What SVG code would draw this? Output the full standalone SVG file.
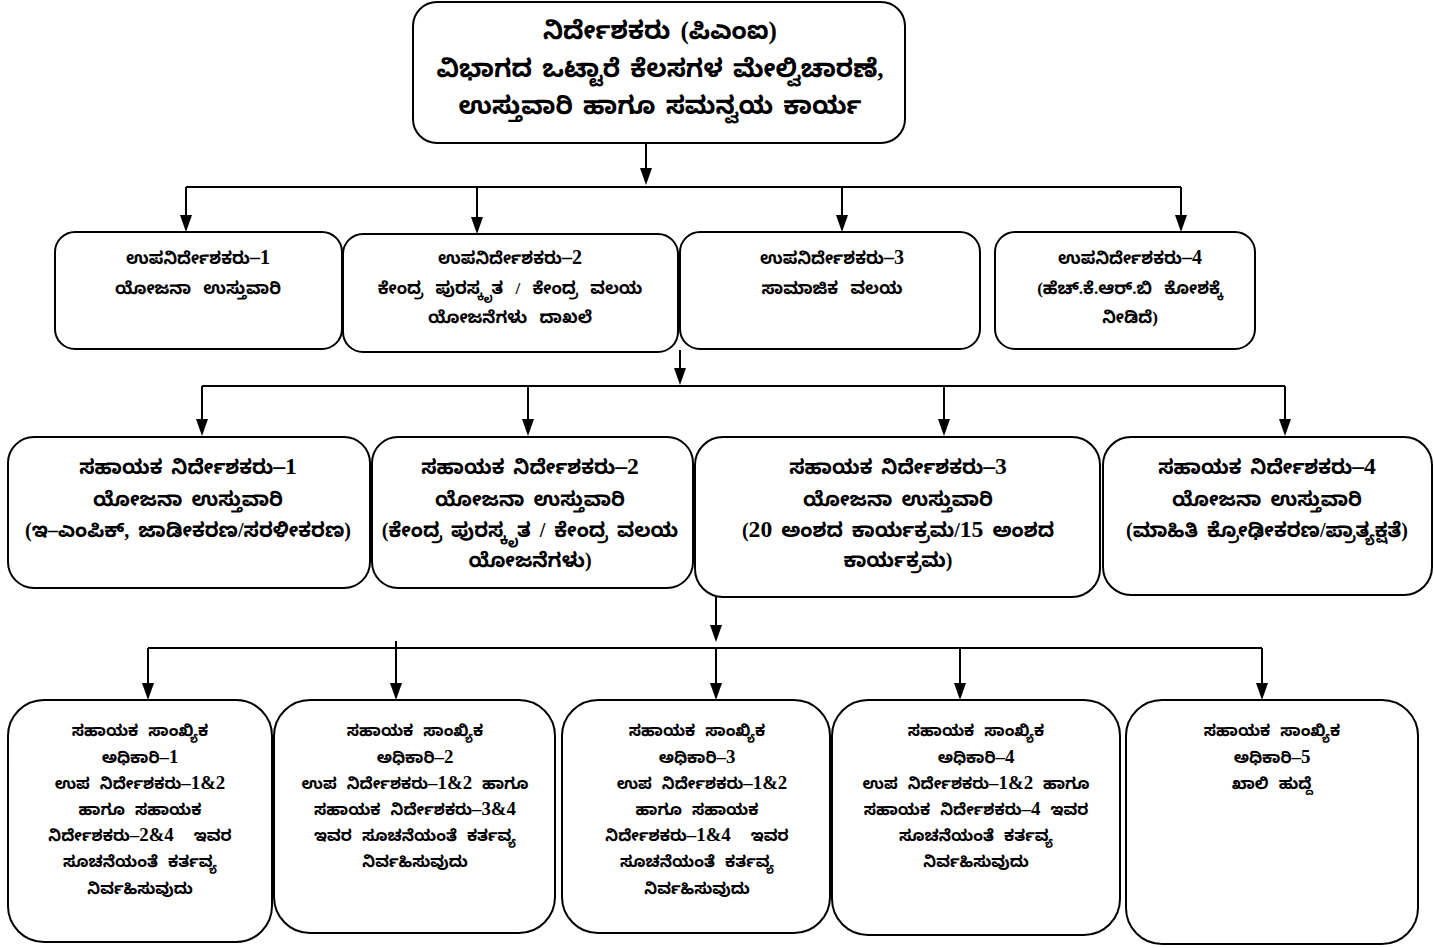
<svg xmlns="http://www.w3.org/2000/svg" width="1434" height="948" viewBox="0 0 1434 948">
<style>
.box{fill:#fff;stroke:#000;stroke-width:2}
.t{font-family:"Liberation Serif","Noto Sans Kannada","Noto Sans",serif;font-weight:bold;text-anchor:middle;fill:#000;white-space:pre}
.t1{font-size:25px;word-spacing:4px}
.t2{font-size:17px;word-spacing:8px}
.t3{font-size:20px;word-spacing:4px}
.t4{font-size:16px;word-spacing:6px}
.n{font-size:1.18em}
.c{fill:none;stroke:#000;stroke-width:2}
</style>
<rect width="1434" height="948" fill="#fff"/>
<g id="connectors">
<line class="c" x1="646" y1="143" x2="646" y2="172"/>
<path d="M640,168 L652,168 L646,185 Z"/>
<polyline class="c" points="186,187 1181,187"/>
<line class="c" x1="186" y1="187" x2="186" y2="218"/><path d="M180,215 L192,215 L186,232 Z"/>
<line class="c" x1="477" y1="187" x2="477" y2="220"/><path d="M471,217 L483,217 L477,234 Z"/>
<line class="c" x1="842" y1="187" x2="842" y2="218"/><path d="M836,215 L848,215 L842,232 Z"/>
<line class="c" x1="1181" y1="187" x2="1181" y2="218"/><path d="M1175,215 L1187,215 L1181,232 Z"/>
<line class="c" x1="680" y1="350" x2="680" y2="372"/><path d="M674,368 L686,368 L680,385 Z"/>
<polyline class="c" points="202,386 1285,386"/>
<line class="c" x1="202" y1="386" x2="202" y2="422"/><path d="M196,419 L208,419 L202,436 Z"/>
<line class="c" x1="528" y1="386" x2="528" y2="422"/><path d="M522,419 L534,419 L528,436 Z"/>
<line class="c" x1="944" y1="386" x2="944" y2="422"/><path d="M938,419 L950,419 L944,436 Z"/>
<line class="c" x1="1285" y1="386" x2="1285" y2="422"/><path d="M1279,419 L1291,419 L1285,436 Z"/>
<line class="c" x1="716" y1="578" x2="716" y2="628"/><path d="M710,625 L722,625 L716,642 Z"/>
<polyline class="c" points="148,648 1262,648"/>
<line class="c" x1="148" y1="648" x2="148" y2="686"/><path d="M142,683 L154,683 L148,700 Z"/>
<line class="c" x1="396" y1="641" x2="396" y2="686"/><path d="M390,683 L402,683 L396,700 Z"/>
<line class="c" x1="716" y1="648" x2="716" y2="686"/><path d="M710,683 L722,683 L716,700 Z"/>
<line class="c" x1="960" y1="648" x2="960" y2="686"/><path d="M954,683 L966,683 L960,700 Z"/>
<line class="c" x1="1262" y1="648" x2="1262" y2="686"/><path d="M1256,683 L1268,683 L1262,700 Z"/>
</g>
<g id="director">
<rect class="box" x="413" y="2" width="492" height="141" rx="24"/>
<text class="t t1" x="660" y="39">ನಿರ್ದೇಶಕರು (ಪಿಎಂಐ)</text>
<text class="t t1" x="660" y="77">ವಿಭಾಗದ ಒಟ್ಟಾರೆ ಕೆಲಸಗಳ ಮೇಲ್ವಿಚಾರಣೆ,</text>
<text class="t t1" x="660" y="114">ಉಸ್ತುವಾರಿ ಹಾಗೂ ಸಮನ್ವಯ ಕಾರ್ಯ</text>
</g>
<g id="dd1">
<rect class="box" x="55" y="232" width="287" height="117" rx="20"/>
<text class="t t2" x="198" y="264">ಉಪನಿರ್ದೇಶಕರು<tspan class="n">–1</tspan></text>
<text class="t t2" x="198" y="294">ಯೋಜನಾ ಉಸ್ತುವಾರಿ</text>
</g>
<g id="dd2">
<rect class="box" x="343" y="234" width="335" height="118" rx="20"/>
<text class="t t2" x="510" y="264">ಉಪನಿರ್ದೇಶಕರು<tspan class="n">–2</tspan></text>
<text class="t t2" x="510" y="294">ಕೇಂದ್ರ ಪುರಸ್ಕೃತ / ಕೇಂದ್ರ ವಲಯ</text>
<text class="t t2" x="510" y="323">ಯೋಜನೆಗಳು ದಾಖಲೆ</text>
</g>
<g id="dd3">
<rect class="box" x="680" y="232" width="300" height="117" rx="20"/>
<text class="t t2" x="832" y="264">ಉಪನಿರ್ದೇಶಕರು<tspan class="n">–3</tspan></text>
<text class="t t2" x="832" y="294">ಸಾಮಾಜಿಕ ವಲಯ</text>
</g>
<g id="dd4">
<rect class="box" x="995" y="232" width="260" height="117" rx="20"/>
<text class="t t2" x="1130" y="264">ಉಪನಿರ್ದೇಶಕರು<tspan class="n">–4</tspan></text>
<text class="t t2" x="1130" y="294">(ಹೆಚ್.ಕೆ.ಆರ್.ಬಿ ಕೋಶಕ್ಕೆ</text>
<text class="t t2" x="1130" y="323">ನೀಡಿದೆ)</text>
</g>
<g id="ad1">
<rect class="box" x="8" y="437" width="362" height="151" rx="26"/>
<text class="t t3" x="188" y="474">ಸಹಾಯಕ ನಿರ್ದೇಶಕರು<tspan class="n">–1</tspan></text>
<text class="t t3" x="188" y="506">ಯೋಜನಾ ಉಸ್ತುವಾರಿ</text>
<text class="t t3" x="188" y="537">(ಇ–ಎಂಪಿಕ್, ಜಾಡೀಕರಣ/ಸರಳೀಕರಣ)</text>
</g>
<g id="ad2">
<rect class="box" x="372" y="437" width="321" height="151" rx="26"/>
<text class="t t3" x="530" y="474">ಸಹಾಯಕ ನಿರ್ದೇಶಕರು<tspan class="n">–2</tspan></text>
<text class="t t3" x="530" y="506">ಯೋಜನಾ ಉಸ್ತುವಾರಿ</text>
<text class="t t3" x="530" y="537">(ಕೇಂದ್ರ ಪುರಸ್ಕೃತ / ಕೇಂದ್ರ ವಲಯ</text>
<text class="t t3" x="530" y="567">ಯೋಜನೆಗಳು)</text>
</g>
<g id="ad3">
<rect class="box" x="695" y="437" width="405" height="160" rx="28"/>
<text class="t t3" x="898" y="474">ಸಹಾಯಕ ನಿರ್ದೇಶಕರು<tspan class="n">–3</tspan></text>
<text class="t t3" x="898" y="506">ಯೋಜನಾ ಉಸ್ತುವಾರಿ</text>
<text class="t t3" x="898" y="537">(<tspan class="n">20</tspan> ಅಂಶದ ಕಾರ್ಯಕ್ರಮ/<tspan class="n">15</tspan> ಅಂಶದ</text>
<text class="t t3" x="898" y="567">ಕಾರ್ಯಕ್ರಮ)</text>
</g>
<g id="ad4">
<rect class="box" x="1103" y="437" width="329" height="158" rx="28"/>
<text class="t t3" x="1267" y="474">ಸಹಾಯಕ ನಿರ್ದೇಶಕರು<tspan class="n">–4</tspan></text>
<text class="t t3" x="1267" y="506">ಯೋಜನಾ ಉಸ್ತುವಾರಿ</text>
<text class="t t3" x="1267" y="537">(ಮಾಹಿತಿ ಕ್ರೋಢೀಕರಣ/ಪ್ರಾತ್ಯಕ್ಷತೆ)</text>
</g>
<g id="aso1">
<rect class="box" x="8" y="700" width="264" height="242" rx="36"/>
<text class="t t4" x="140" y="736">ಸಹಾಯಕ ಸಾಂಖ್ಯಿಕ</text>
<text class="t t4" x="140" y="763">ಅಧಿಕಾರಿ<tspan class="n">–1</tspan></text>
<text class="t t4" x="140" y="789">ಉಪ ನಿರ್ದೇಶಕರು<tspan class="n">–1&amp;2</tspan></text>
<text class="t t4" x="140" y="815">ಹಾಗೂ ಸಹಾಯಕ</text>
<text class="t t4" x="140" y="841">ನಿರ್ದೇಶಕರು<tspan class="n">–2&amp;4</tspan>  ಇವರ</text>
<text class="t t4" x="140" y="867">ಸೂಚನೆಯಂತೆ ಕರ್ತವ್ಯ</text>
<text class="t t4" x="140" y="894">ನಿರ್ವಹಿಸುವುದು</text>
</g>
<g id="aso2">
<rect class="box" x="274" y="700" width="281" height="233" rx="36"/>
<text class="t t4" x="415" y="736">ಸಹಾಯಕ ಸಾಂಖ್ಯಿಕ</text>
<text class="t t4" x="415" y="763">ಅಧಿಕಾರಿ<tspan class="n">–2</tspan></text>
<text class="t t4" x="415" y="789">ಉಪ ನಿರ್ದೇಶಕರು<tspan class="n">–1&amp;2</tspan> ಹಾಗೂ</text>
<text class="t t4" x="415" y="815">ಸಹಾಯಕ ನಿರ್ದೇಶಕರು<tspan class="n">–3&amp;4</tspan></text>
<text class="t t4" x="415" y="841">ಇವರ ಸೂಚನೆಯಂತೆ ಕರ್ತವ್ಯ</text>
<text class="t t4" x="415" y="867">ನಿರ್ವಹಿಸುವುದು</text>
</g>
<g id="aso3">
<rect class="box" x="562" y="700" width="268" height="233" rx="36"/>
<text class="t t4" x="697" y="736">ಸಹಾಯಕ ಸಾಂಖ್ಯಿಕ</text>
<text class="t t4" x="697" y="763">ಅಧಿಕಾರಿ<tspan class="n">–3</tspan></text>
<text class="t t4" x="697" y="789"> ಉಪ ನಿರ್ದೇಶಕರು<tspan class="n">–1&amp;2</tspan></text>
<text class="t t4" x="697" y="815">ಹಾಗೂ ಸಹಾಯಕ</text>
<text class="t t4" x="697" y="841">ನಿರ್ದೇಶಕರು<tspan class="n">–1&amp;4</tspan>  ಇವರ</text>
<text class="t t4" x="697" y="867">ಸೂಚನೆಯಂತೆ ಕರ್ತವ್ಯ</text>
<text class="t t4" x="697" y="894">ನಿರ್ವಹಿಸುವುದು</text>
</g>
<g id="aso4">
<rect class="box" x="832" y="700" width="288" height="235" rx="36"/>
<text class="t t4" x="976" y="736">ಸಹಾಯಕ ಸಾಂಖ್ಯಿಕ</text>
<text class="t t4" x="976" y="763">ಅಧಿಕಾರಿ<tspan class="n">–4</tspan></text>
<text class="t t4" x="976" y="789">ಉಪ ನಿರ್ದೇಶಕರು<tspan class="n">–1&amp;2</tspan> ಹಾಗೂ</text>
<text class="t t4" x="976" y="815">ಸಹಾಯಕ ನಿರ್ದೇಶಕರು<tspan class="n">–4</tspan> ಇವರ</text>
<text class="t t4" x="976" y="841">ಸೂಚನೆಯಂತೆ ಕರ್ತವ್ಯ</text>
<text class="t t4" x="976" y="867">ನಿರ್ವಹಿಸುವುದು</text>
</g>
<g id="aso5">
<rect class="box" x="1126" y="700" width="292" height="244" rx="36"/>
<text class="t t4" x="1272" y="736">ಸಹಾಯಕ ಸಾಂಖ್ಯಿಕ</text>
<text class="t t4" x="1272" y="763">ಅಧಿಕಾರಿ<tspan class="n">–5</tspan></text>
<text class="t t4" x="1272" y="789">ಖಾಲಿ ಹುದ್ದೆ</text>
</g>
</svg>
